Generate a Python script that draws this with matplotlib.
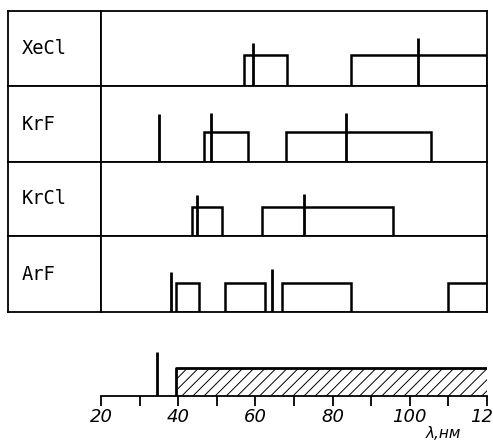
import matplotlib.pyplot as plt
import numpy as np

# rows of the table: label, bands (start, end) in nm, lines (position nm, height)
row_labels = ['XeCl', 'KrF', 'KrCl', 'ArF']
band_starts = [[57.0, 84.7], [46.8, 67.8], [43.5, 61.6], [39.4, 52.0, 66.9, 110.0]]
band_ends = [[68.2, 120.0], [58.0, 105.6], [51.3, 95.7], [45.3, 62.4, 84.7, 120.0]]
band_height = [0.41, 0.40, 0.39, 0.38]
line_pos = [[59.4, 102.0], [35.0, 48.5, 83.4], [44.8, 72.7], [38.2, 64.3]]
line_height = [[0.57, 0.64], [0.63, 0.64, 0.64], [0.56, 0.57], [0.53, 0.57]]

# bottom scale
bottom_band = (39.4, 120.0)
bottom_band_h = 0.5
bottom_line = 34.5
bottom_line_h = 0.79
major_ticks = np.arange(20, 121, 20)
minor_ticks = np.arange(20, 121, 10)

W, H = 493, 442
fig = plt.figure(figsize=(W / 100, H / 100), dpi=100)

def fx(px):
    return px / W

def fy(px):
    return 1 - px / H

row_edges = [11, 86, 162, 236, 312]
x_left, x_div, x_right = 8, 101, 487
frame_lw = 1.3

for i, name in enumerate(row_labels):
    top, bot = row_edges[i], row_edges[i + 1]
    # label cell
    lab = fig.add_axes([fx(x_left), fy(bot), fx(x_div - x_left), (bot - top) / H])
    lab.set_xticks([])
    lab.set_yticks([])
    for s in lab.spines.values():
        s.set_linewidth(frame_lw)
    lab.text(0.15, 0.5, name, transform=lab.transAxes, ha='left', va='center',
             fontsize=13.5, family='DejaVu Sans Mono')

    # data cell
    ax = fig.add_axes([fx(x_div), fy(bot), fx(x_right - x_div), (bot - top) / H])
    ax.set_xlim(20, 120)
    ax.set_ylim(0, 1)
    ax.set_xticks([])
    ax.set_yticks([])
    for s in ax.spines.values():
        s.set_linewidth(frame_lw)
    starts = np.array(band_starts[i])
    ends = np.array(band_ends[i])
    ax.bar(starts, band_height[i], width=ends - starts, align='edge',
           fill=False, edgecolor='black', linewidth=1.8)
    ax.vlines(line_pos[i], 0, line_height[i], color='black', linewidth=2.0)

# bottom wavelength scale
axb = fig.add_axes([fx(x_div), fy(396), fx(x_right - x_div), 56 / H])
axb.set_xlim(20, 120)
axb.set_ylim(0, 1)
for side in ['left', 'top', 'right']:
    axb.spines[side].set_visible(False)
axb.spines['bottom'].set_linewidth(frame_lw)
axb.set_yticks([])
axb.set_xticks(major_ticks)
axb.set_xticks(minor_ticks, minor=True)
axb.tick_params(axis='x', which='both', direction='out', length=7, width=frame_lw)
axb.tick_params(axis='x', which='major', pad=2, labelsize=13)
plt.setp(axb.get_xticklabels(), style='italic')

plt.rcParams['hatch.linewidth'] = 0.7
axb.bar(bottom_band[0], bottom_band_h, width=bottom_band[1] - bottom_band[0],
        align='edge', facecolor='none', edgecolor='black', hatch='///', linewidth=0)
axb.plot([bottom_band[0], bottom_band[0], bottom_band[1]],
         [0, bottom_band_h, bottom_band_h], color='black', linewidth=2.0)
axb.vlines(bottom_line, 0, bottom_line_h, color='black', linewidth=2.0)

fig.text(fx(443), fy(433), 'λ,нм', ha='center', va='center', fontsize=11, style='italic')

fig.savefig('out.png', dpi=100)
